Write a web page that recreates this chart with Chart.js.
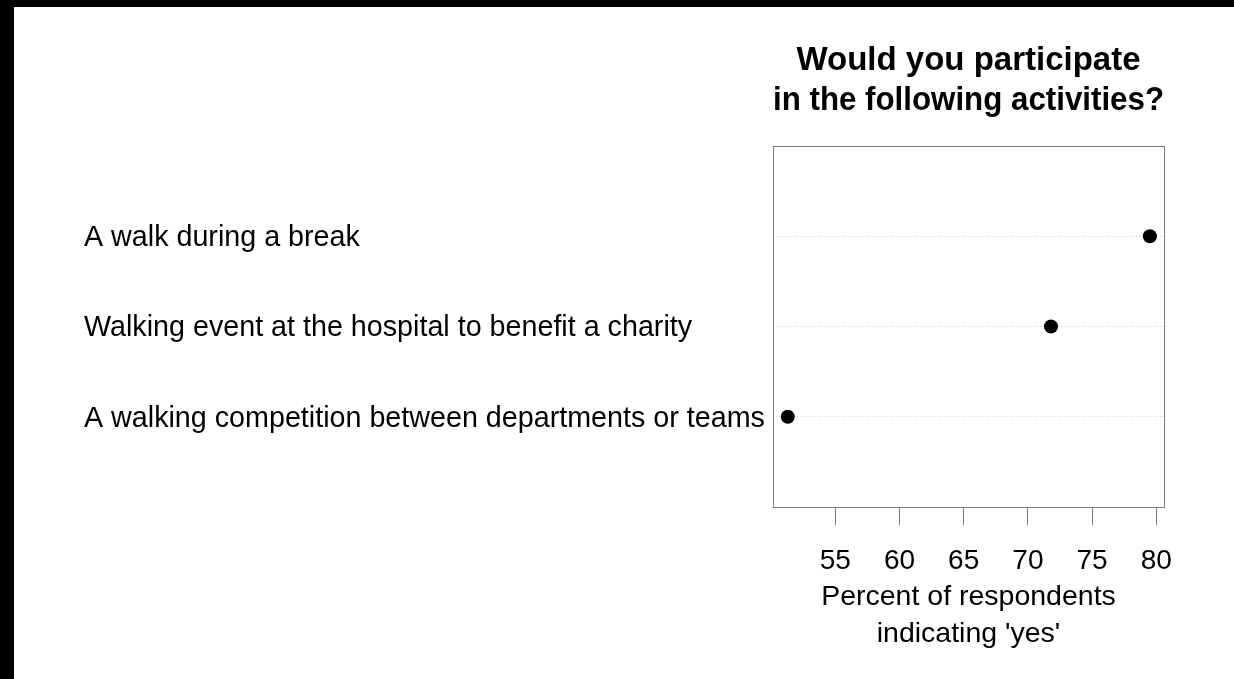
<!DOCTYPE html>
<html lang="en">
<head>
    <meta charset="UTF-8">
    <title>Would you participate in the following activities?</title>
    <script src="https://cdn.jsdelivr.net/npm/chart.js"></script>
    <style>
        html, body { margin: 0; padding: 0; background: #000; width: 1234px; height: 679px; overflow: hidden; }
        .caixa { position: absolute; left: 14px; top: 7px; width: 1220px; height: 672px; background: #fff; }
    </style>
</head>
<body>

    <div class="caixa">
        <canvas id="myChart" width="1220" height="672"></canvas>
    </div>

<script>

// activities, top to bottom
var atividades = ['A walk during a break', 'Walking event at the hospital to benefit a charity', 'A walking competition between departments or teams'];
// percent of respondents indicating 'yes'
var percentuais = [79.5, 71.8, 51.3];
// x tick values
var ticksX = [55, 60, 65, 70, 75, 80];

var n = atividades.length;
var pontos = [];
for (var i = 0; i < n; i++) {
    pontos.push({ x: percentuais[i], y: n - i });
}

// box around the plot region
const caixaPlugin = {
    id: 'caixaPlugin',
    afterDatasetsDraw(chart) {
        const a = chart.chartArea;
        const ctx = chart.ctx;
        ctx.save();
        ctx.strokeStyle = '#7a7a7a';
        ctx.lineWidth = 1;
        ctx.strokeRect(Math.round(a.left) + 0.5, Math.round(a.top) + 0.5, Math.round(a.right - a.left), Math.round(a.bottom - a.top));
        ctx.restore();
    }
};

Chart.defaults.font.family = "'Liberation Sans', Arial, sans-serif";
Chart.defaults.color = '#000';

const config = {
    type: 'scatter',
    data: {
        datasets: [{
            label: 'yes',
            data: pontos,
            backgroundColor: '#000',
            borderWidth: 0,
            pointRadius: 7,
            pointHoverRadius: 7
        }]
    },
    options: {
        responsive: false,
        animation: false,
        events: [],
        layout: { padding: { left: 70, right: 70, top: 0, bottom: 0 } },
        plugins: {
            legend: { display: false },
            tooltip: { enabled: false },
            title: {
                display: true,
                fullSize: false,
                text: ['Would you participate', 'in the following activities?'],
                color: '#000',
                font: { size: 33, weight: 'bold', lineHeight: '40px' },
                padding: { top: 34, bottom: 25 }
            }
        },
        scales: {
            x: {
                type: 'linear',
                min: 50.15,
                max: 80.6,
                afterBuildTicks: function (scale) {
                    scale.ticks = ticksX.map(function (v) { return { value: v }; });
                },
                afterFit: function (scale) { scale.height = 172; },
                grid: {
                    drawOnChartArea: false,
                    drawTicks: true,
                    tickLength: 18,
                    color: '#7a7a7a',
                    tickColor: '#7a7a7a'
                },
                border: { display: false },
                ticks: {
                    padding: 19,
                    maxRotation: 0,
                    autoSkip: false,
                    font: { size: 28 },
                    callback: function (v) { return String(v); }
                },
                title: {
                    display: true,
                    text: ['Percent of respondents', "indicating 'yes'"],
                    color: '#000',
                    font: { size: 28.5, lineHeight: '37px' },
                    padding: { top: 0, bottom: 26 }
                }
            },
            y: {
                type: 'linear',
                min: 0,
                max: 4,
                afterBuildTicks: function (scale) {
                    var t = [];
                    for (var k = 1; k <= n; k++) t.push({ value: k });
                    scale.ticks = t;
                },
                afterFit: function (scale) { scale.width = 689; },
                grid: {
                    drawOnChartArea: true,
                    drawTicks: false,
                    color: '#d3d3d3',
                    lineWidth: 1
                },
                border: { display: false, dash: [1, 2] },
                ticks: {
                    crossAlign: 'far',
                    labelOffset: 2,
                    autoSkip: false,
                    font: { size: 28.7 },
                    callback: function (v) { return atividades[n - v]; }
                }
            }
        }
    },
    plugins: [caixaPlugin]
};

let myChart = new Chart(document.getElementById('myChart'), config);

</script>
</body>
</html>
